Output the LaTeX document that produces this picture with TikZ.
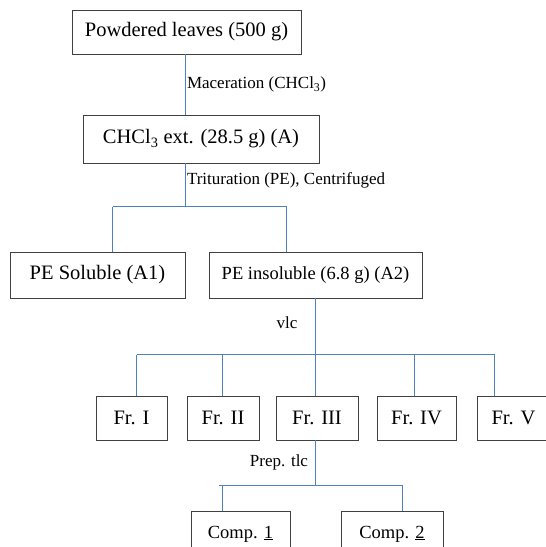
\documentclass[tikz,border=0pt]{standalone}
\usepackage{fontspec}
\setmainfont{Liberation Serif}
\usetikzlibrary{positioning}
\definecolor{linkblue}{RGB}{79,129,189}

\begin{document}
\begin{tikzpicture}[x=1pt,y=-1pt,
    box/.style={draw=black!75,line width=0.9pt,minimum height=46pt,inner sep=0pt,
      font=\fontsize{20.5}{24}\selectfont},
    smallbox/.style={box,font=\fontsize{18.5}{22}\selectfont},
    lbl/.style={inner sep=0pt,font=\fontsize{17}{20}\selectfont},
    link/.style={draw=linkblue,line width=1pt}]
    \useasboundingbox (0,0) rectangle (546,547);

    % Extraction steps
    \node[box,minimum width=229pt,minimum height=44pt] (leaves) at (186.5,32) {Powdered leaves (500 g)};
    \node[box,minimum width=236pt,minimum height=48pt] (ext) at (201,139) {CHCl\textsubscript{3} ext. (28.5 g) (A)};

    % Trituration products
    \node[box,minimum width=175pt] (sol) at (97.5,275) {PE Soluble (A1)};
    \node[smallbox,minimum width=213pt] (insol) at (315.5,275) {PE insoluble (6.8 g) (A2)};

    % Fractions from vlc
    \foreach \n/\lab/\cx/\w in {1/I/131.5/71,2/II/223/72,3/III/317/82,4/IV/416.5/79,5/V/513.5/73} {
      \node[box,minimum width=\w pt,minimum height=44pt] (fr\n) at (\cx,418) {Fr. \lab};
    }

    % Compounds
    \node[smallbox,minimum width=99pt] (comp1) at (240.5,534) {Comp. \underline{1}};
    \node[smallbox,minimum width=102pt] (comp2) at (392,534) {Comp. \underline{2}};

    % Branch points
    \coordinate (main) at (185.5,206.5);
    \coordinate (left) at (112.5,206.5);
    \coordinate (right) at (286.5,206.5);
    \coordinate (vmid) at (315.5,354.5);
    \coordinate (pmid) at (315.5,485.5);
    \coordinate (pleft) at (222.5,485.5);
    \coordinate (pright) at (402.5,485.5);

    % Connectors
    \draw[link] (leaves.south -| main) -- (ext.north -| main)
      node[lbl,pos=0.5,right=1pt] {Maceration (CHCl\textsubscript{3})};
    \draw[link] (ext.south -| main) -- (main)
      node[lbl,pos=0.4,right=1pt] {Trituration (PE), Centrifuged};
    \draw[link] (left) -- (right);
    \draw[link] (left) -- (left |- sol.north);
    \draw[link] (right) -- (right |- insol.north);

    \draw[link] (insol.south -| vmid) -- (vmid);
    \node[lbl] (vlc) at (287,323) {vlc};
    \foreach \n/\dx in {1/136.5,2/222.5,3/315.5,4/414.5,5/494.5} {
      \coordinate (v\n) at (\dx,354.5);
      \draw[link] (v\n) -- (v\n |- fr\n.north);
    }
    \draw[link] (v1) -- (v5);

    \draw[link] (fr3.south -| pmid) -- (pmid);
    \node[lbl] (prep) at (279,462) {Prep. tlc};
    \draw[link] (219,485.5) -- (pright);
    \draw[link] (pleft) -- (pleft |- comp1.north);
    \draw[link] (pright) -- (pright |- comp2.north);

  \end{tikzpicture}
\end{document}
